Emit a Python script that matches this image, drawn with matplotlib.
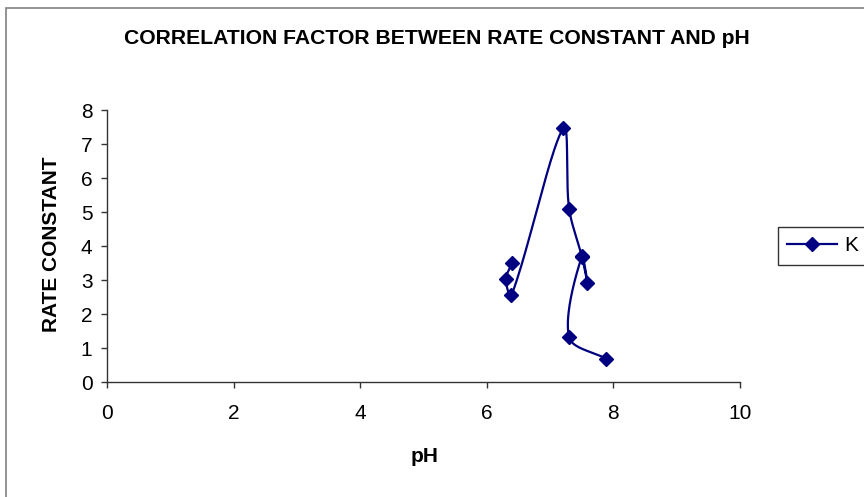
import numpy as np
import matplotlib
matplotlib.use("Agg")
import matplotlib.pyplot as plt
from matplotlib.patches import Rectangle
from matplotlib.lines import Line2D

plt.rcParams['font.family'] = ['Liberation Sans', 'DejaVu Sans']

ph = [6.40, 6.30, 6.39, 7.21, 7.30, 7.50, 7.59, 7.50, 7.30, 7.89]
rate = [3.50, 3.03, 2.55, 7.47, 5.10, 3.70, 2.92, 3.68, 1.32, 0.68]
series_name = "K"
title = "CORRELATION FACTOR BETWEEN RATE CONSTANT AND pH"
xticks = [0, 2, 4, 6, 8, 10]
yticks = [0, 1, 2, 3, 4, 5, 6, 7, 8]

XSCALE, YSCALE = 63.3, 34.0  # approx pixels per data unit, for smoothing weights


def smooth(xs, ys, n=40):
    # smoothed line (cubic Bezier with length-weighted Catmull-Rom tangents)
    P = np.column_stack([xs, ys]).astype(float)
    S = P * np.array([XSCALE, YSCALE])
    m = len(P)
    d = np.linalg.norm(np.diff(S, axis=0), axis=1)
    out = [P[0]]
    t = np.linspace(0, 1, n)[1:, None]
    for i in range(m - 1):
        p1, p2 = P[i], P[i + 1]
        if i > 0:
            T1 = P[i + 1] - P[i - 1]
            c1 = p1 + T1 * d[i] / (d[i - 1] + d[i]) / 3.0
        else:
            c1 = p1 + (p2 - p1) / 3.0
        if i + 2 < m:
            T2 = P[i + 2] - P[i]
            c2 = p2 - T2 * d[i] / (d[i] + d[i + 1]) / 3.0
        else:
            c2 = p2 - (p2 - p1) / 3.0
        seg = ((1 - t) ** 3) * p1 + 3 * ((1 - t) ** 2) * t * c1 + 3 * (1 - t) * t ** 2 * c2 + t ** 3 * p2
        out.extend(seg)
    out = np.array(out)
    return out[:, 0], out[:, 1]


fig = plt.figure(figsize=(8.64, 4.97), dpi=100)
ax = fig.add_axes([107 / 864, 1 - 382 / 497, (740 - 107) / 864, (382 - 110) / 497])

sx, sy = smooth(ph, rate)
color = '#000080'
ax.plot(sx, sy, color=color, lw=1.6, zorder=2)
ax.plot(ph, rate, linestyle='none', marker='D', ms=6.8, color=color, zorder=3)

ax.set_xlim(0, 10)
ax.set_ylim(0, 8)
ax.set_xticks(xticks)
ax.set_yticks(yticks)
ax.tick_params(axis='both', labelsize=15, length=4.5, width=1, color='#333333')
ax.tick_params(axis='x', pad=11)
ax.tick_params(axis='y', pad=6)
for s in ['top', 'right']:
    ax.spines[s].set_visible(False)
for s in ['left', 'bottom']:
    ax.spines[s].set_color('#333333')
    ax.spines[s].set_linewidth(1)

fig.text(425 / 864, 1 - 457 / 497, 'pH', ha='center', va='center', fontsize=15,
         fontweight='bold')
fig.text(52 / 864, 1 - 244 / 497, 'RATE CONSTANT', ha='center', va='center', fontsize=15,
         fontweight='bold', rotation=90)

fig.text(437 / 864, 1 - 38.5 / 497, title, ha='center', va='center', fontsize=15.2,
         fontweight='bold')

# outer chart border
fig.add_artist(Rectangle((6 / 864, -0.1), 1.2, 1 - 8 / 497 + 0.1, transform=fig.transFigure,
                         fill=False, edgecolor='#808080', lw=1.2))

handle = Line2D([], [], color=color, lw=1.6, marker='D', ms=6.8)
leg = fig.legend([handle], [series_name], loc='upper left',
                 bbox_to_anchor=(778 / 864, 1 - 227 / 497, 110 / 864, 0), mode='expand',
                 frameon=True, fancybox=False,
                 fontsize=15, handlelength=2.4, handletextpad=0.35, borderpad=0.45,
                 borderaxespad=0, edgecolor='#000000')
leg.get_frame().set_linewidth(1)

fig.savefig('out.png', dpi=100)
